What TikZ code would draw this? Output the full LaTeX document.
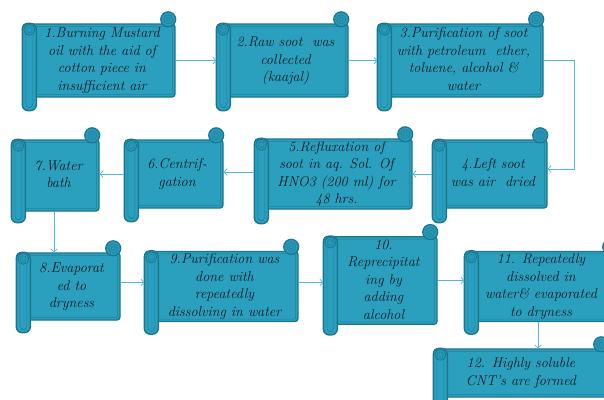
\documentclass[tikz,border=0pt]{standalone}
\usetikzlibrary{calc,arrows.meta}
\definecolor{scfill}{RGB}{42,160,190}
\definecolor{scdark}{RGB}{27,118,145}
\definecolor{scline}{RGB}{86,182,212}
\definecolor{sctext}{RGB}{14,26,34}
\tikzset{
  body/.style={draw=scdark, fill=scfill, line width=1.4pt, rounded corners=3pt, inner sep=0pt, align=center,
    font=\fontsize{14.2}{17.5}\selectfont\itshape, text=sctext},
  roll/.style={draw=scdark, fill=scfill, line width=1.4pt, rounded corners=6pt},
  curl/.style={draw=scdark, fill=scfill!80!scdark, line width=1.2pt},
  thinline/.style={draw=scdark!75!scfill, line width=0.5pt},
  conn/.style={draw=scline, line width=0.7pt, -{Straight Barb[length=3pt,width=7pt]}},
}
\newcommand\sctxt[1]{\hspace*{6pt}\begin{tabular}{@{}c@{}}#1\end{tabular}}
\newcommand\scrolldeco[2]{%
  \draw[thinline, rounded corners=2pt] ($(#1.north west)+(3,3)$) rectangle ($(#1.south east)+(-3,-3)$);
  \draw[curl] ($(#1.north east)+(-7.5,-4)$) circle (7.5);
  \draw[thinline] ($(#1.north east)+(-7.5,-4)$) circle (4.5);
  \draw[thinline] ($(#1.north east)+(-7.5,-4)$) circle (2);
  \draw[roll] ($(#1.north west)$) rectangle ($(#1.south west)+(14,#2)$);
  \draw[thinline, rounded corners=4pt] ($(#1.north west)+(3.5,6)$) rectangle ($(#1.south west)+(10.5,#2-3)$);
  \draw[curl, line width=0.8pt] ($(#1.north west)+(7,6.5)$) circle (5.5);
  \draw[thinline] ($(#1.north west)+(7,6.5)$) circle (3);
}
\begin{document}
\begin{tikzpicture}[x=1pt,y=-1pt]
\useasboundingbox (0,0) rectangle (604,399);
\fill[white] (0,0) rectangle (604,399);
\clip (0,0) rectangle (604,399);

\coordinate (r3) at (574,60.5);

% row 1
\node[body, minimum width=152pt, minimum height=73pt] (n1) at (99,60.5)
  {\sctxt{1.Burning Mustard\\oil with the aid of\\cotton piece in\\insufficient air}};
\scrolldeco{n1}{13}
\node[body, minimum width=131pt, minimum height=73pt] (n2) at (282.5,60.5)
  {\sctxt{2.Raw soot\ \ was\\collected\\(kaajal)}};
\scrolldeco{n2}{13}
\node[body, minimum width=165pt, minimum height=73pt] (n3) at (460.5,60.5)
  {\sctxt{3.Purification of soot\\with petroleum\ \ ether,\\toluene, alcohol \&\\water}};
\scrolldeco{n3}{13}

% row 2
\node[body, minimum width=114pt, minimum height=68pt] (n4) at (490,174)
  {\sctxt{4.Left soot\\was air\ \ dried}};
\scrolldeco{n4}{14}
\node[body, minimum width=157pt, minimum height=68pt] (n5) at (333.5,174)
  {\sctxt{5.Refluxation of\\soot in aq. Sol. Of\\HNO3 (200 ml) for\\48 hrs.}};
\scrolldeco{n5}{14}
\node[body, minimum width=98pt, minimum height=68pt] (n6) at (174,174)
  {\sctxt{6.Centrif-\\gation}};
\scrolldeco{n6}{13}
\node[body, minimum width=87pt, minimum height=71pt] (n7) at (55.5,175.5)
  {\sctxt{7.Water\\bath}};
\scrolldeco{n7}{11}

% row 3
\node[body, minimum width=103pt, minimum height=67pt] (n8) at (68.5,286.5)
  {\sctxt{8.Evaporat\\ed to\\dryness}};
\scrolldeco{n8}{12}
\node[body, minimum width=153pt, minimum height=67pt] (n9) at (221.5,286.5)
  {\sctxt{9.Purification was\\done with\\repeatedly\\dissolving in water}};
\scrolldeco{n9}{12}
\node[body, minimum width=113pt, minimum height=85pt] (n10) at (380.5,280.5)
  {\sctxt{10.\\Reprecipitat\\ing by\\adding\\alcohol}};
\scrolldeco{n10}{10}
\node[body, minimum width=152pt, minimum height=67pt] (n11) at (541,286.5)
  {\hspace*{-6pt}\sctxt{11. Repeatedly\\dissolved in\\water\& evaporated\\to dryness}};
\scrolldeco{n11}{12}
\node[body, minimum width=174pt, minimum height=48pt] (n12) at (521,373)
  {\hspace*{-6pt}\sctxt{12. Highly soluble\\CNT's are formed}};
\scrolldeco{n12}{12}

% helper coordinates
\coordinate (a4) at ($(n4.east)+(0,-5)$);
\coordinate (a5) at ($(n5.west)+(0,-2)$);
\coordinate (a8) at ($(n8.east)+(0,-4)$);
\coordinate (a9) at ($(n9.east)+(0,-4)$);
\coordinate (x7) at (54,0);
\coordinate (x11) at (538,0);

% connectors
\draw[conn] (n1.east) -- (n2.west);
\draw[conn] (n2.east) -- (n3.west);
\draw[conn] (n3.east) -- (r3) |- (a4);
\draw[conn] (n4.west) -- (n5.east);
\draw[conn] (a5) -- (a5 -| n6.east);
\draw[conn] (n6.west) -- (n6.west -| n7.east);
\draw[conn] (x7 |- n7.south) -- (x7 |- n8.north);
\draw[conn] (a8) -- (a8 -| n9.west);
\draw[conn] (a9) -- (a9 -| n10.west);
\draw[conn] (n10.east) -- (n10.east -| n11.west);
\draw[conn] (x11 |- n11.south) -- (x11 |- n12.north);
\end{tikzpicture}
\end{document}
